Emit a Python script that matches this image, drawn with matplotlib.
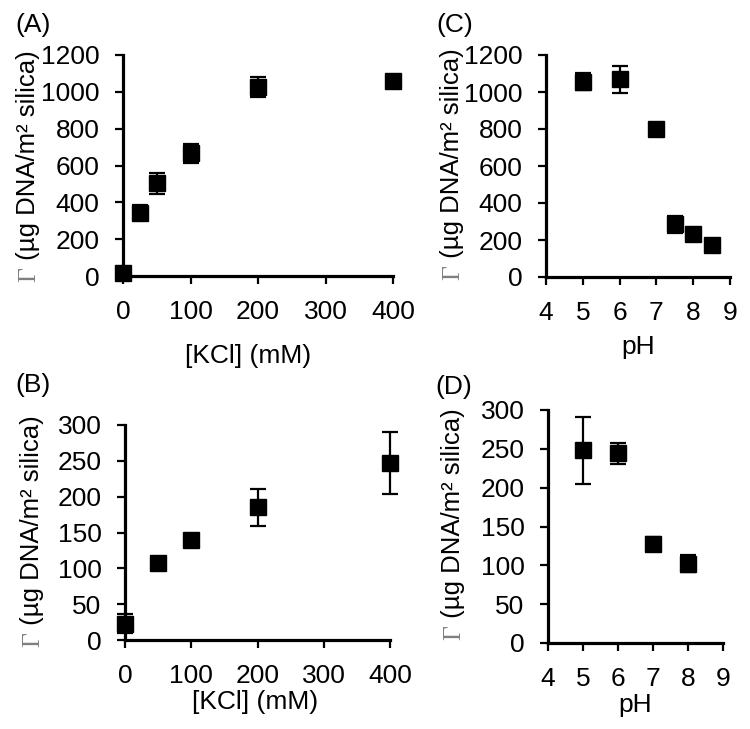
import matplotlib
matplotlib.use("Agg")
from matplotlib import pyplot as plt

# (A) adsorbed DNA vs KCl concentration
kcl_a = [0, 25, 50, 100, 200, 400]
gamma_a = [15, 344, 503, 666, 1025, 1058]
err_a = [12, 40, 58, 52, 55, 20]

# (C) adsorbed DNA vs pH
ph_c = [5, 6, 7, 7.5, 8, 8.5]
gamma_c = [1055, 1068, 798, 284, 235, 172]
err_c = [45, 72, 30, 45, 30, 20]

# (B) adsorbed DNA vs KCl concentration
kcl_b = [0, 50, 100, 200, 400]
gamma_b = [23, 107, 140, 185, 247]
err_b = [13, 5, 8, 26, 43]

# (D) adsorbed DNA vs pH
ph_d = [5, 6, 7, 8]
gamma_d = [248, 244, 127, 102]
err_d = [43, 14, 9, 11]

kcl_ticks = [0, 100, 200, 300, 400]
ph_ticks = [4, 5, 6, 7, 8, 9]
yticks_big = [0, 200, 400, 600, 800, 1000, 1200]
yticks_small = [0, 50, 100, 150, 200, 250, 300]

W, H = 750, 729
FS = 19     # tick / axis label size
FY = 18.5   # y label size

plt.rcParams["font.family"] = ["Liberation Sans", "DejaVu Sans"]

fig = plt.figure(figsize=(W / 100, H / 100), dpi=100)

# tag, x, y, err, xticks, yticks, xlabel, axes box (l, t, r, b) px,
# xlabel (centre x, top y) px, ylabel centre px, tag pos px
panels = [
    ("(A)", kcl_a, gamma_a, err_a, kcl_ticks, yticks_big, "[KCl] (mM)",
     (123, 55, 393, 276), (248, 344), (26, 166), (15, 13)),
    ("(C)", ph_c, gamma_c, err_c, ph_ticks, yticks_big, "pH",
     (546, 55, 730, 277), (638, 335), (450, 164), (436, 13)),
    ("(B)", kcl_b, gamma_b, err_b, kcl_ticks, yticks_small, "[KCl] (mM)",
     (125, 425, 390, 640), (255, 690), (30, 531), (15, 373)),
    ("(D)", ph_d, gamma_d, err_d, ph_ticks, yticks_small, "pH",
     (548, 410, 723, 643), (635, 693), (451, 524), (435, 375)),
]

ylabel_pos = []
for tag, xs, ys, es, xt, yt, xl, box, xlpos, ylpos, tagpos in panels:
    l, t, r, b = box
    ax = fig.add_axes([l / W, 1 - b / H, (r - l) / W, (b - t) / H])
    ax.errorbar(xs, ys, yerr=es, fmt="s", color="black", ms=11.5,
                elinewidth=1.6, capsize=5.8, capthick=1.6, clip_on=False,
                zorder=3)
    ax.set_xlim(xt[0], xt[-1])
    ax.set_ylim(yt[0], yt[-1])
    ax.set_xticks(xt)
    ax.set_yticks(yt)
    for s in ("top", "right"):
        ax.spines[s].set_visible(False)
    for s in ("left", "bottom"):
        ax.spines[s].set_linewidth(2.3)
    ax.tick_params(direction="out", length=6, width=1.6, labelsize=FS,
                   pad=11)
    ax.set_xlabel(xl, fontsize=FS)
    ax.xaxis.set_label_coords((xlpos[0] - l) / (r - l),
                              (b - xlpos[1]) / (b - t))
    fig.text(tagpos[0] / W, 1 - tagpos[1] / H, tag, fontsize=FS, va="top")
    ylabel_pos.append(ylpos)

# y labels: grey serif Gamma followed by the unit text, centred on a point
renderer = fig.canvas.get_renderer()
for xc, yc in ylabel_pos:
    kw = dict(rotation=90, rotation_mode="anchor", ha="left",
              va="baseline", fontsize=FY)
    g = fig.text(0, 0, "Γ", family=["Liberation Serif"], color="#7f7f7f", **kw)
    rest = fig.text(0, 0, " (µg DNA/m² silica)", color="black", **kw)
    gl = g.get_window_extent(renderer).height
    rl = rest.get_window_extent(renderer).height
    start = (H - yc) - (gl + rl) / 2
    bx = xc + 0.36 * FY * 100 / 72
    g.set_position((bx / W, start / H))
    rest.set_position((bx / W, (start + gl) / H))

fig.savefig("out.png", dpi=100)
